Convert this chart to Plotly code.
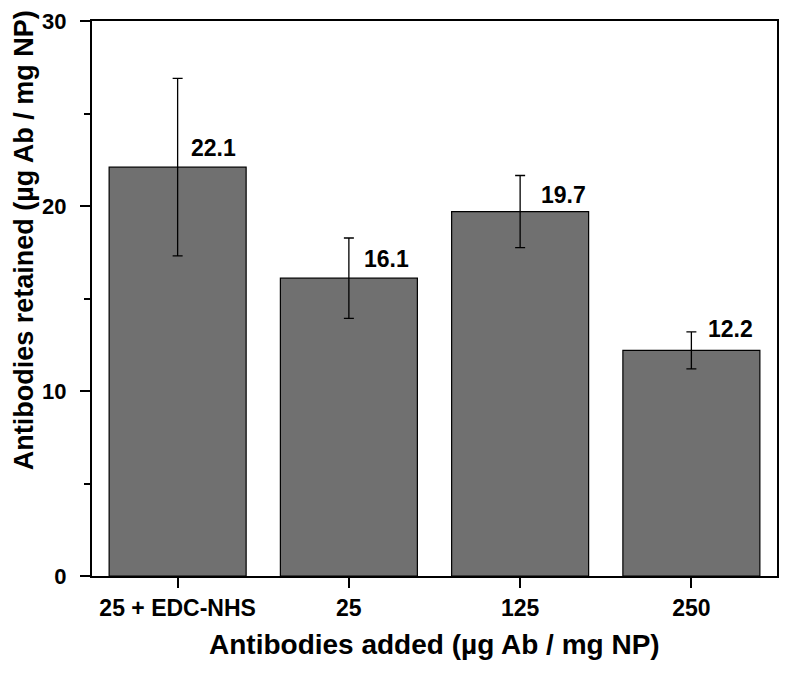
import plotly.graph_objects as go

# ---- data ----
categories = ["25 + EDC-NHS", "25", "125", "250"]
retained = [22.1, 16.1, 19.7, 12.2]
errors = [4.8, 2.17, 1.95, 1.0]
value_labels = ["22.1", "16.1", "19.7", "12.2"]
y_ticks = [0, 10, 20, 30]

# ---- style ----
FONT = "Liberation Sans, Arial, sans-serif"
label_xshift = [11, 13, 19, 15]
label_yshift = [4, 4, 2, 6]

fig = go.Figure()
fig.add_trace(go.Bar(
    x=categories, y=retained,
    marker=dict(color="#707070", line=dict(color="#000000", width=1.2)),
    width=0.8,
    error_y=dict(type="data", array=errors, visible=True,
                 color="#000000", thickness=1.3, width=5),
    showlegend=False, hoverinfo="skip",
))

for i, (v, t) in enumerate(zip(retained, value_labels)):
    fig.add_annotation(x=i, y=v, text=t, showarrow=False,
                       xanchor="left", yanchor="bottom",
                       xshift=label_xshift[i], yshift=label_yshift[i],
                       font=dict(family=FONT, size=23, color="#000000", weight="bold"))

fig.add_annotation(xref="paper", yref="paper", x=-0.1, y=0.604,
                   text="Antibodies retained (µg Ab / mg NP)", textangle=-90,
                   showarrow=False, xanchor="center", yanchor="middle",
                   font=dict(family=FONT, size=27, color="#000000", weight="bold"))
fig.add_annotation(xref="paper", yref="paper", x=0.5, y=-0.123,
                   text="Antibodies added (µg Ab / mg NP)",
                   showarrow=False, xanchor="center", yanchor="middle",
                   font=dict(family=FONT, size=28, color="#000000", weight="bold"))

fig.update_layout(
    width=788, height=675,
    margin=dict(l=92, r=9, t=17, b=99),
    plot_bgcolor="white", paper_bgcolor="white",
    bargap=0.2,
)
fig.update_xaxes(
    type="category",
    range=[-0.5, 3.5], showline=True, linecolor="black", linewidth=2, mirror=True,
    ticks="outside", ticklen=10, tickwidth=1.5, tickcolor="black",
    tickfont=dict(family=FONT, size=23, color="black", weight="bold"),
    showgrid=False, zeroline=False,
)
fig.update_yaxes(
    range=[0, 30], tickvals=y_ticks, showline=True, linecolor="black", linewidth=2, mirror=True,
    ticks="outside", ticklen=10, tickwidth=1.5, tickcolor="black",
    minor=dict(dtick=5, ticks="outside", ticklen=6, tickwidth=1.5, tickcolor="black", showgrid=False),
    tickfont=dict(family=FONT, size=22, color="black", weight="bold"),
    ticklabelstandoff=9,
    showgrid=False, zeroline=False,
)

fig.write_html("out.html", config={"displayModeBar": False},
               post_script="document.body.style.margin='0';document.body.style.overflow='hidden';")
